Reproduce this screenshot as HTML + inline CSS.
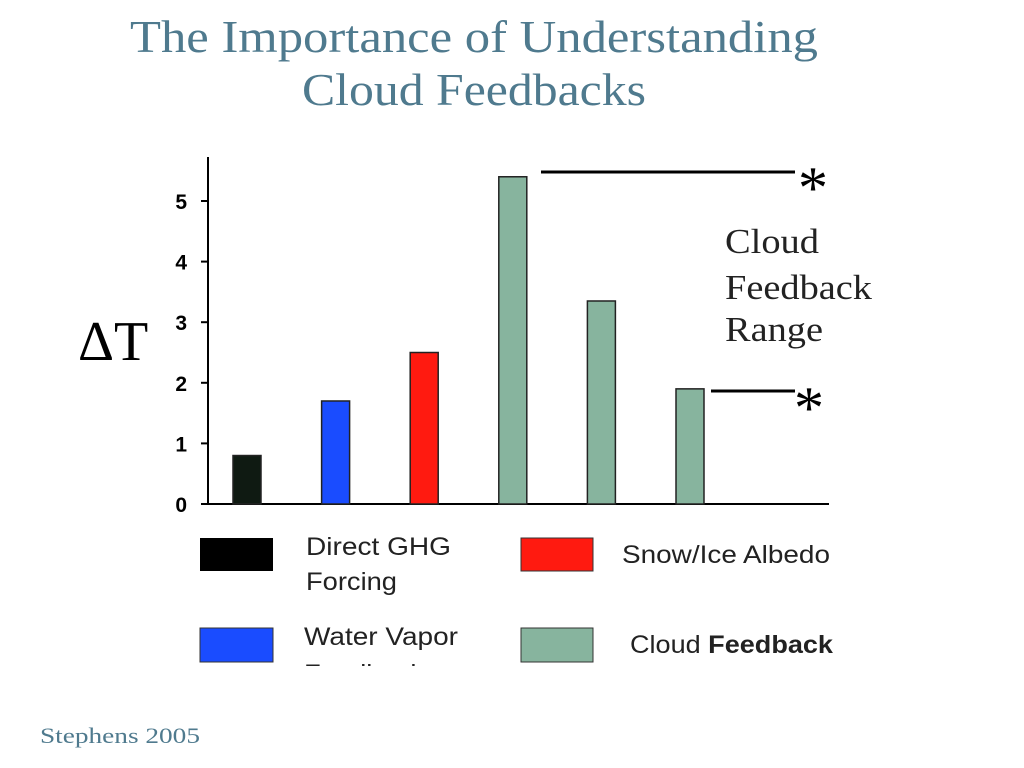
<!DOCTYPE html>
<html><head><meta charset="utf-8"><style>
body{margin:0;background:#fff;width:1024px;height:768px;overflow:hidden}
svg{display:block}
</style></head><body>
<svg width="1024" height="768" viewBox="0 0 1024 768">
<text x="474" y="52" text-anchor="middle" font-family="Liberation Serif, serif" font-size="46" fill="#4f7a8e" textLength="688" lengthAdjust="spacingAndGlyphs">The Importance of Understanding</text>
<text x="474" y="105" text-anchor="middle" font-family="Liberation Serif, serif" font-size="46" fill="#4f7a8e" textLength="344" lengthAdjust="spacingAndGlyphs">Cloud Feedbacks</text>
<g id="chart">
<line x1="208" y1="157" x2="208" y2="504" stroke="#000" stroke-width="2"/>
<line x1="207" y1="504" x2="829" y2="504" stroke="#000" stroke-width="2"/>
<g id="ticks"></g>
<g id="bars"></g>
</g>
<text x="78" y="360" font-family="Liberation Serif, serif" font-size="56" fill="#000">ΔT</text>
<line x1="541" y1="172" x2="795" y2="172" stroke="#000" stroke-width="3"/>
<text x="798" y="208" font-family="Liberation Serif, serif" font-size="60">*</text>
<line x1="711" y1="391" x2="795" y2="391" stroke="#000" stroke-width="3"/>
<text x="794" y="428" font-family="Liberation Serif, serif" font-size="60">*</text>
<g font-family="Liberation Serif, serif" font-size="35" fill="#222">
<text x="725" y="253" textLength="94" lengthAdjust="spacingAndGlyphs">Cloud</text><text x="725" y="299" textLength="147" lengthAdjust="spacingAndGlyphs">Feedback</text><text x="725" y="341" textLength="98" lengthAdjust="spacingAndGlyphs">Range</text></g>
<g font-family="Liberation Sans, sans-serif" font-size="25" fill="#222">
<rect x="200" y="538" width="73" height="33" fill="#000"/>
<text x="306" y="555" textLength="145" lengthAdjust="spacingAndGlyphs">Direct GHG</text><text x="306" y="590" textLength="91" lengthAdjust="spacingAndGlyphs">Forcing</text>
<rect x="521" y="538" width="72" height="33" fill="#ff1a10" stroke="#333"/>
<text x="622" y="563" textLength="208" lengthAdjust="spacingAndGlyphs">Snow/Ice Albedo</text>
<rect x="200" y="628" width="73" height="34" fill="#1a4cff" stroke="#333"/>
<text x="304" y="645" textLength="154" lengthAdjust="spacingAndGlyphs">Water Vapor</text>
<text x="304" y="682" textLength="120" lengthAdjust="spacingAndGlyphs">Feedback</text>
<rect x="521" y="628" width="72" height="34" fill="#87b49e" stroke="#333"/>
<text x="630" y="653" textLength="203" lengthAdjust="spacingAndGlyphs">Cloud <tspan font-weight="bold">Feedback</tspan></text>
</g>
<rect x="180" y="666" width="700" height="30" fill="#fff"/>
<text x="40" y="743" font-family="Liberation Serif, serif" font-size="22" fill="#4f7a8e" textLength="160" lengthAdjust="spacingAndGlyphs">Stephens 2005</text>
</svg>
<script>
const categories=["Direct GHG","Water Vapor","Snow/Ice Albedo","Cloud A","Cloud B","Cloud C"];
const values=[0.8,1.7,2.5,5.4,3.35,1.9];
const colors=["#0f1a12","#1a4cff","#ff1a10","#87b49e","#87b49e","#87b49e"];
const tickValues=[0,1,2,3,4,5];
const tickLabels=["0","1","2","3","4","5"];
const NS="http://www.w3.org/2000/svg";
const y0=504,pxPerUnit=60.6;
function yScale(v){return y0-v*pxPerUnit;}
function xScale(i){return 247+i*88.6;}
const bw=28;
const bars=document.getElementById("bars");
values.forEach((v,i)=>{
 const r=document.createElementNS(NS,"rect");
 r.setAttribute("x",xScale(i)-bw/2);r.setAttribute("y",yScale(v));
 r.setAttribute("width",bw);r.setAttribute("height",y0-yScale(v));
 r.setAttribute("fill",colors[i]);r.setAttribute("stroke","#222");r.setAttribute("stroke-width","1.5");
 
 
 bars.appendChild(r);
});
const ticks=document.getElementById("ticks");
tickValues.forEach((t,i)=>{
 const y=yScale(t);
 const l=document.createElementNS(NS,"line");
 l.setAttribute("x1",201);l.setAttribute("x2",208);l.setAttribute("y1",y);l.setAttribute("y2",y);
 l.setAttribute("stroke","#000");l.setAttribute("stroke-width","2");
 
 
 ticks.appendChild(l);
 const tx=document.createElementNS(NS,"text");
 tx.setAttribute("x",187);tx.setAttribute("y",y+8);tx.setAttribute("text-anchor","end");
 tx.setAttribute("font-family","Liberation Sans, sans-serif");tx.setAttribute("font-weight","bold");tx.setAttribute("font-size","21");
 tx.textContent=tickLabels[i];
 
 
 ticks.appendChild(tx);
});
</script>
</body></html>
